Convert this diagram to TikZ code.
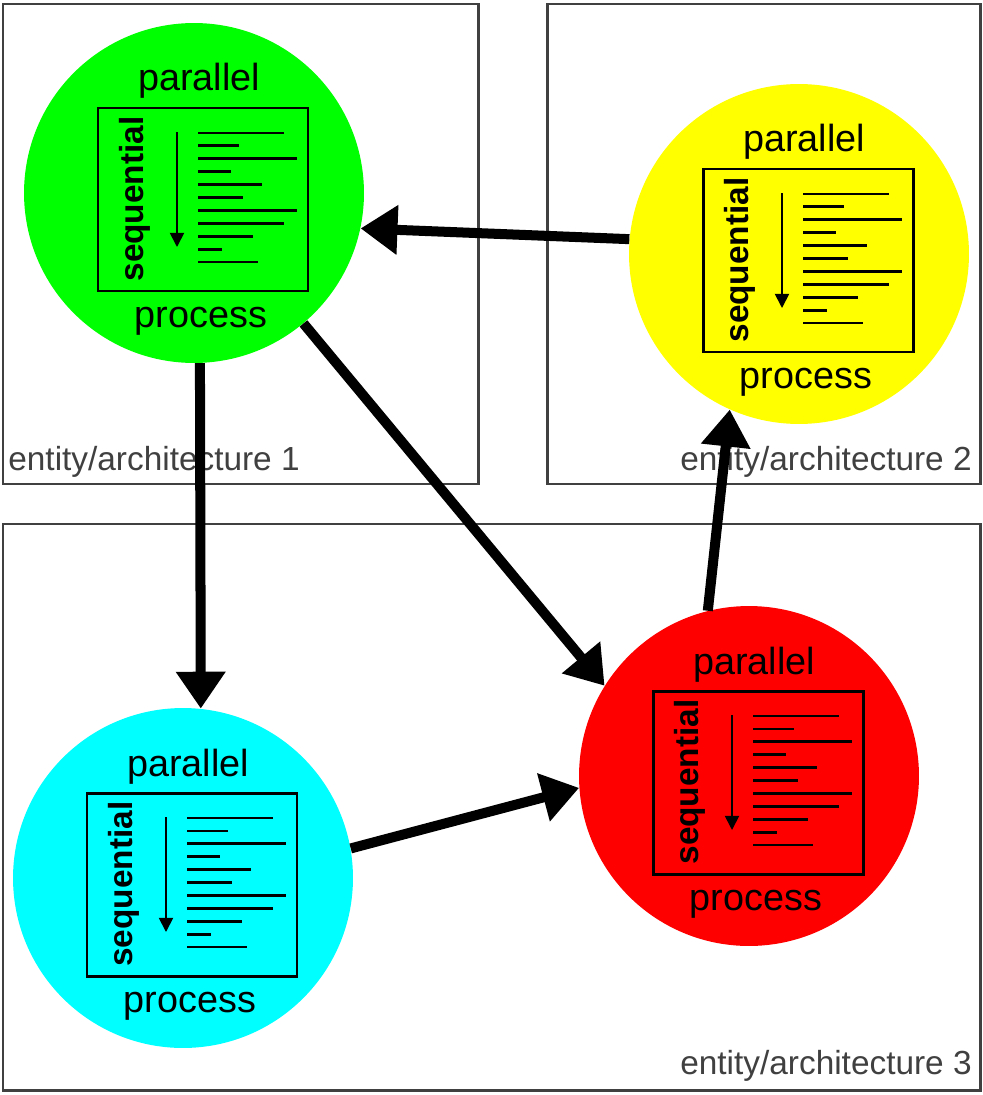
\documentclass[tikz,border=0pt]{standalone}
\usepackage{fontspec}
\setmainfont{Liberation Sans}
\usetikzlibrary{arrows.meta}
\definecolor{pgreen}{RGB}{0,255,0}
\definecolor{pyellow}{RGB}{255,255,0}
\definecolor{pcyan}{RGB}{0,255,255}
\definecolor{pred}{RGB}{255,0,0}

\begin{document}
\begin{tikzpicture}[x=0.02cm, y=-0.02cm,
    bubble/.style={circle, minimum size=6.8cm, inner sep=0pt},
    entbox/.style={draw=black!75, line width=1.7pt},
    entlabel/.style={text=black!75, inner sep=0pt, font=\fontsize{19}{22}\selectfont},
    word/.style={inner sep=0pt, anchor=base, font=\fontsize{21.5}{24}\selectfont},
    flow/.style={line width=5.7pt, -{Triangle[length=21pt, width=27pt]}}]
    \useasboundingbox (0,0) rectangle (983,1095);
    \draw[entbox] (3,4) rectangle (478,484);
    \draw[entbox] (547,4) rectangle (980,484);
    \draw[entbox] (3,524) rectangle (980,1090);
    \node[entlabel, anchor=base west] (e1) at (8,470) {entity/architecture 1};
    \node[entlabel, anchor=base east] (e2) at (972,470) {entity/architecture 2};
    \node[entlabel, anchor=base east] (e3) at (972,1074) {entity/architecture 3};
    \foreach \n/\col/\cx/\cy in {1/pgreen/194/193, 2/pyellow/799/254, 3/pcyan/183/878, 4/pred/749/776} {
        \node[bubble, fill=\col] (\n) at (\cx,\cy) {};
        \begin{scope}[shift={(\cx,\cy)}]
            \draw[line width=1.7pt] (-96,-85) rectangle (114,98);
            \node[word] (par\n) at (5,-102) {parallel};
            \node[word] (pro\n) at (7,134) {process};
            \node[inner sep=0pt, rotate=90, font=\bfseries\fontsize{19}{20}\selectfont] (seq\n) at (-59,6) {sequential};
            \draw[line width=1pt, -{Triangle[length=8pt, width=8pt]}] (-17,-61) -- (-17,54);
            \foreach \len [count=\i from 0] in {86,41,99,33,64,45,99,86,55,24,60}
                \draw[line width=1.6pt] (4,{-60+12.9*\i}) -- ++(\len,0);
        \end{scope}
    }
    \draw[flow] (2.175) -- (1.-12);
    \draw[flow] (1.-88) -- (3.84);
    \draw[flow] (1.-50) -- (4.148);
    \draw[flow] (3.10) -- (4.-176);
    \draw[flow] (4.104) -- (2.-114);
\end{tikzpicture}
\end{document}
